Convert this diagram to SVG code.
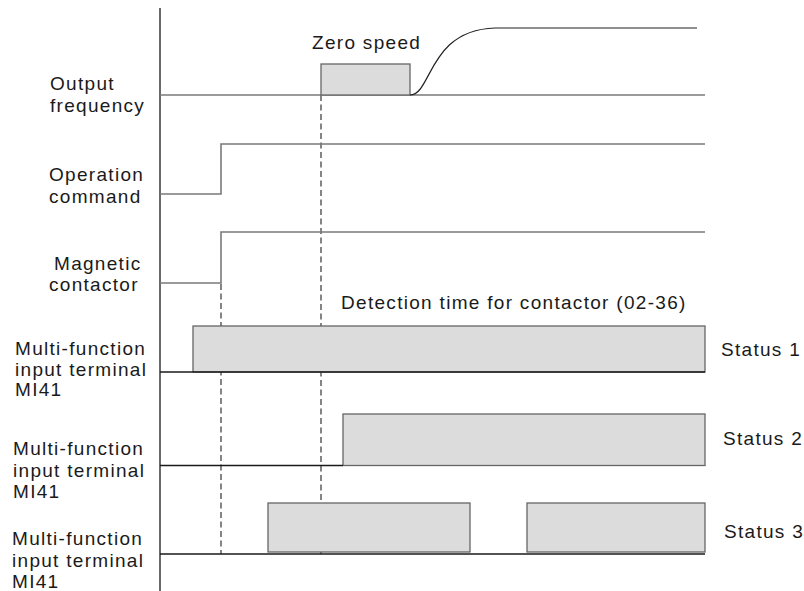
<svg xmlns="http://www.w3.org/2000/svg" width="804" height="591" viewBox="0 0 804 591">
<style>
text{font-family:"Liberation Sans",Arial,sans-serif;font-size:19px;letter-spacing:1.3px;fill:#1a1a1a}
.sig{fill:none;stroke:#7a7a7a;stroke-width:1.6}
.base{fill:none;stroke:#1a1a1a;stroke-width:1.3}
.box{fill:#dcdcdc;stroke:#666;stroke-width:1.3}
.dash{fill:none;stroke:#222;stroke-width:1.1;stroke-dasharray:6 3.5}
.curve{fill:none;stroke:#222;stroke-width:1.2}
</style>
<rect width="804" height="591" fill="#fff"/>
<g id="connectors">
<line class="base" x1="160" y1="8" x2="160" y2="591"/>
<line class="dash" x1="221" y1="284" x2="221" y2="554"/>
<line class="dash" x1="321" y1="95" x2="321" y2="554"/>
</g>
<g id="output-frequency">
<text x="50" y="90">Output</text>
<text x="50" y="112">frequency</text>
<line class="sig" x1="160" y1="95" x2="705" y2="95"/>
<rect class="box" x="321" y="64" width="89" height="31"/>
<path class="curve" d="M410,95 C432,95 428,30 495,28 L697,28"/>
<text x="312" y="49">Zero speed</text>
</g>
<g id="operation-command">
<text x="49" y="181">Operation</text>
<text x="49" y="203">command</text>
<path class="sig" d="M160,194 H221 V144 H705"/>
</g>
<g id="magnetic-contactor">
<text x="54" y="270">Magnetic</text>
<text x="49" y="291">contactor</text>
<path class="sig" d="M160,283 H221 V232 H705"/>
</g>
<g id="status1">
<text x="341" y="309">Detection time for contactor (02-36)</text>
<text x="15" y="355">Multi-function</text>
<text x="15" y="376">input terminal</text>
<text x="15" y="396">MI41</text>
<rect class="box" x="193" y="326" width="512" height="46"/>
<line class="base" x1="160" y1="372" x2="705" y2="372"/>
<text x="721" y="356">Status 1</text>
</g>
<g id="status2">
<text x="13" y="455">Multi-function</text>
<text x="13" y="477">input terminal</text>
<text x="13" y="498">MI41</text>
<rect class="box" x="343" y="414" width="362" height="51.5"/>
<line class="base" x1="160" y1="465.5" x2="343" y2="465.5"/>
<text x="723" y="445">Status 2</text>
</g>
<g id="status3">
<text x="12" y="545">Multi-function</text>
<text x="12" y="567">input terminal</text>
<text x="12" y="588">MI41</text>
<rect class="box" x="268" y="503" width="202" height="49"/>
<rect class="box" x="527" y="503" width="178" height="49"/>
<line class="base" x1="160" y1="554" x2="705" y2="554"/>
<text x="724" y="538">Status 3</text>
</g>
</svg>
